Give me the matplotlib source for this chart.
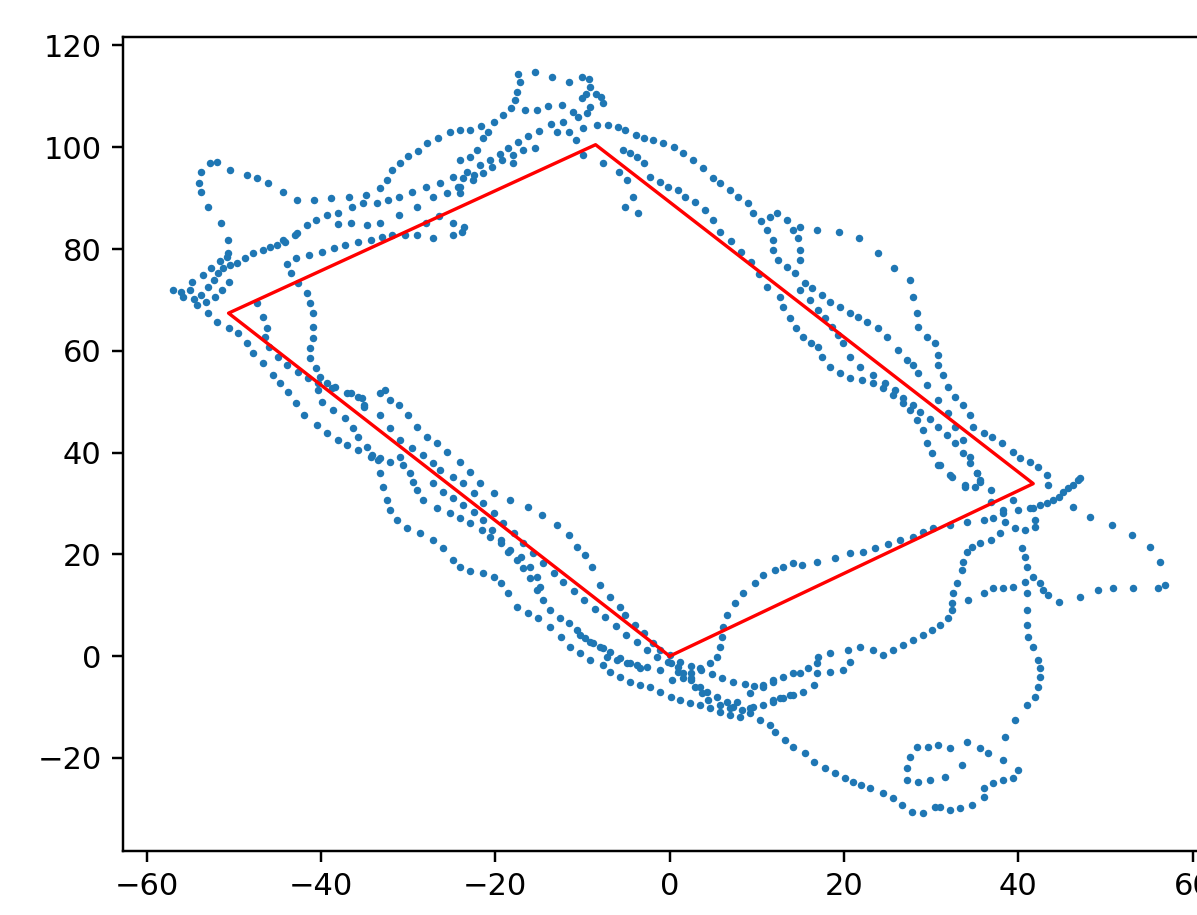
import numpy as np
import matplotlib
matplotlib.use("Agg")
import matplotlib.pyplot as plt

# expected path (red)
path_x = [0, 41.7, -8.5, -50.6, 0]
path_y = [0, 33.9, 100.5, 67.4, 0]

# measured positions, one list per visible track piece
nw_loop = [(-50.7, 79.2), (-50.7, 81.8), (-51.5, 85.1), (-52.9, 88.3), (-53.8, 91.2), (-54.0, 93.0),
           (-53.8, 95.2), (-52.7, 97.0), (-51.9, 97.1), (-50.4, 95.6), (-48.5, 94.5), (-47.3, 94.0),
           (-46.1, 93.0), (-44.4, 91.2), (-42.7, 89.7), (-40.8, 89.6), (-38.9, 90.0), (-36.8, 90.2),
           (-34.8, 90.6), (-33.2, 92.0), (-32.4, 93.6), (-31.8, 95.6), (-30.9, 97.0), (-30.0, 98.3),
           (-28.9, 99.3), (-27.8, 100.9), (-26.6, 101.9), (-25.2, 102.9), (-24.0, 103.4), (-22.9, 103.4),
           (-21.6, 104.2), (-20.2, 105.0), (-19.1, 106.4), (-18.2, 107.8), (-17.7, 109.2), (-17.5, 110.9),
           (-17.2, 112.9), (-17.4, 114.3), (-15.4, 114.7), (-13.5, 113.9), (-11.6, 112.9), (-10.0, 113.9),
           (-9.3, 113.4), (-9.1, 111.9), (-8.5, 110.5), (-7.9, 109.8), (-7.7, 108.7)]

top_cluster = [(-16.6, 107.4), (-15.2, 107.4), (-13.9, 108.2), (-12.3, 108.4), (-11.1, 107.0), (-10.5, 106.0),
               (-9.5, 106.8), (-9.1, 108.0), (-10.0, 109.6), (-9.6, 110.4), (-12.9, 103.0), (-11.6, 103.0),
               (-10.8, 101.4), (-9.9, 98.5), (-15.4, 99.9), (-18.0, 97.0), (-24.0, 97.5), (-22.9, 98.1),
               (-22.1, 99.5), (-21.4, 101.8), (-20.8, 103.0), (-22.5, 94.6), (-23.7, 94.0), (-24.3, 92.2),
               (-24.0, 91.0), (-7.7, 96.9), (-5.8, 95.1), (-4.9, 93.6), (-4.2, 90.3), (-5.1, 88.3), (-3.6, 87.1)]

nw_cluster = [(-57.0, 72.0), (-56.1, 71.6), (-55.0, 72.0), (-53.8, 71.0), (-53.0, 72.6), (-52.3, 73.9),
              (-51.8, 75.3), (-51.2, 76.3), (-50.4, 76.9), (-49.6, 77.3), (-48.7, 78.3), (-47.8, 79.3),
              (-46.6, 79.8), (-45.8, 80.4), (-44.3, 81.8), (-43.0, 82.7), (-54.8, 73.5), (-53.5, 74.8),
              (-52.6, 76.2), (-51.6, 77.6), (-50.8, 78.4), (-55.8, 70.6), (-54.6, 70.2), (-53.2, 69.6),
              (-52.2, 70.6), (-51.3, 72.0), (-50.5, 73.6)]

nw_upper = [(-45.0, 80.8), (-44.1, 81.4), (-42.7, 83.2), (-41.6, 84.8), (-40.6, 85.8), (-39.3, 86.7),
            (-38.1, 87.1), (-36.4, 88.3), (-35.2, 89.1), (-33.6, 89.1), (-32.3, 89.7), (-31.0, 90.3),
            (-29.5, 91.2), (-27.9, 92.2), (-26.3, 93.0), (-24.8, 94.2), (-23.2, 95.2), (-21.7, 96.6),
            (-20.6, 97.5), (-19.5, 98.7), (-18.5, 99.8), (-17.4, 101.0), (-16.3, 102.3), (-15.0, 103.2),
            (-13.6, 104.5), (-12.2, 105.0)]

nw_mid = [(-38.0, 85.0), (-36.6, 85.2), (-34.7, 84.8), (-33.2, 85.2), (-31.1, 86.7), (-29.0, 88.3),
          (-27.1, 90.3), (-25.5, 91.0), (-24.0, 92.2), (-22.6, 93.6), (-21.4, 95.0), (-20.4, 96.2),
          (-19.2, 97.4), (-18.0, 98.5), (-16.8, 99.4)]

nw_low = [(-42.9, 78.3), (-41.4, 78.9), (-39.9, 79.5), (-38.5, 80.2), (-37.2, 80.8), (-35.7, 81.3),
          (-34.3, 81.8), (-33.0, 82.3), (-31.8, 82.8), (-30.4, 82.8), (-29.0, 82.8), (-27.1, 82.2),
          (-24.9, 82.8), (-23.8, 83.4), (-24.9, 85.2), (-23.6, 84.4), (-26.5, 86.5), (-28.0, 85.2)]

ne_a = [(-9.9, 103.8), (-8.3, 104.4), (-7.1, 104.4), (-5.9, 104.0), (-5.1, 103.4), (-3.9, 102.4),
        (-3.0, 101.8), (-1.9, 101.4), (-0.8, 100.8), (0.5, 100.0), (1.5, 98.9), (2.7, 97.5),
        (3.8, 95.9), (5.0, 94.0), (5.8, 93.0), (6.9, 91.6), (7.8, 90.3), (9.0, 89.1), (9.6, 87.1),
        (11.5, 86.3), (12.3, 87.1), (13.5, 85.7), (14.2, 83.8), (14.7, 82.2), (15.0, 79.8),
        (15.0, 77.9), (14.4, 75.3), (13.5, 76.5), (12.4, 77.9), (11.9, 79.8), (11.9, 81.8),
        (11.2, 83.8), (10.5, 85.5)]

ne_b = [(15.5, 73.4), (16.3, 72.4), (17.5, 71.0), (18.4, 69.6), (19.5, 68.6), (20.7, 67.5),
        (21.6, 66.7), (22.6, 65.7), (23.9, 64.5), (24.9, 62.7), (26.2, 60.2), (27.2, 58.2),
        (27.9, 57.2), (28.5, 55.7), (29.5, 53.3), (30.8, 50.3), (31.9, 47.8), (32.7, 45.0),
        (33.7, 42.5), (34.5, 39.1), (35.3, 36.0), (35.6, 34.2)]

ne_outer = [(15.0, 84.4), (16.9, 83.8), (19.4, 83.4), (21.7, 82.1), (23.9, 79.2), (25.7, 76.2),
            (27.6, 73.9), (27.9, 70.6), (28.4, 67.5), (28.5, 64.7), (29.5, 62.7), (30.4, 61.6),
            (30.8, 59.2), (30.8, 57.2), (31.4, 55.3), (31.9, 52.9), (32.7, 50.9), (33.7, 49.4),
            (34.5, 47.4), (34.8, 45.0), (36.0, 43.9), (37.0, 43.1), (38.1, 41.9), (39.4, 40.1),
            (40.2, 38.9), (41.3, 38.2), (42.3, 37.2), (43.3, 35.6), (43.4, 33.6)]

ne_c = [(-5.3, 99.5), (-4.5, 98.9), (-3.7, 98.1), (-3.0, 96.9), (-2.2, 94.2), (-1.1, 93.2),
        (-0.2, 92.2), (0.9, 91.6), (1.8, 90.3), (2.9, 89.3), (4.0, 87.7), (5.0, 85.7), (5.8, 83.4),
        (7.0, 81.5), (8.2, 79.5), (9.3, 77.5), (10.2, 75.0), (11.2, 72.6), (12.7, 70.6), (13.0, 68.6),
        (13.8, 66.5), (14.5, 64.5), (15.3, 62.7), (16.2, 61.5), (17.0, 60.8), (17.5, 58.8),
        (18.4, 56.8), (19.5, 55.7), (20.7, 54.7), (22.1, 54.3), (23.3, 53.7), (24.5, 52.7),
        (25.6, 51.3), (26.8, 49.8), (27.6, 48.4), (28.4, 46.4), (29.1, 44.4), (29.5, 41.9),
        (30.1, 39.9), (30.8, 37.6), (32.2, 35.6), (33.9, 33.6)]

ne_in = [(15.0, 72.0), (16.1, 70.0), (17.0, 68.0), (17.8, 66.5), (18.6, 64.7), (19.3, 63.1),
         (19.9, 61.6), (20.7, 58.8), (21.8, 56.8), (23.3, 55.3), (24.7, 53.7), (25.9, 52.3),
         (26.8, 50.7), (27.9, 49.4), (28.7, 48.0), (29.9, 46.6), (30.8, 45.0), (31.8, 43.5),
         (32.7, 41.9), (33.7, 39.9), (34.5, 38.0), (35.3, 36.0)]

e_vertex = [(33.9, 33.2), (35.0, 33.2), (35.6, 34.6), (36.8, 32.6), (36.9, 30.3), (38.2, 28.7),
            (39.4, 30.7), (40.0, 28.7), (41.3, 29.1), (38.5, 26.4), (39.6, 25.2), (40.8, 24.8),
            (41.9, 25.4), (41.9, 26.7), (40.4, 21.2), (41.0, 17.5), (31.0, 37.6), (32.4, 35.2),
            (41.7, 29.1), (42.5, 29.7), (43.3, 30.1), (44.0, 30.7), (44.6, 31.3), (45.1, 32.2),
            (45.7, 33.0), (46.3, 33.6), (46.8, 34.6), (47.1, 35.0), (46.3, 29.3), (48.2, 27.3),
            (50.7, 25.8), (53.0, 23.8), (55.1, 21.4), (56.2, 18.5)]

e_low = [(34.2, 11.0), (36.0, 12.4), (37.1, 13.4), (38.2, 13.4), (39.4, 13.6), (40.8, 14.6),
         (41.7, 15.5), (42.5, 14.4), (42.8, 13.0), (43.4, 12.0), (44.6, 10.6), (47.1, 11.6),
         (49.1, 13.0), (50.9, 13.4), (53.2, 13.4), (56.0, 13.4), (56.8, 14.0)]

e_drop = [(40.8, 19.5), (41.0, 12.4), (41.0, 9.0), (41.0, 6.1), (41.1, 3.7), (41.7, 1.8),
          (42.3, -0.8), (42.5, -2.4), (42.5, -4.1), (42.3, -6.1), (41.9, -8.1), (41.0, -9.6),
          (39.6, -12.6), (38.5, -15.9)]

s_loop = [(9.2, -11.2), (10.4, -12.6), (11.5, -13.6), (12.1, -14.9), (13.2, -16.5), (14.2, -17.9),
          (15.5, -19.1), (16.5, -20.8), (17.8, -22.0), (19.0, -23.0), (20.1, -24.0), (21.0, -24.8),
          (22.0, -25.4), (23.0, -26.0), (24.5, -26.9), (25.6, -27.9), (26.7, -29.3), (27.8, -30.7),
          (29.1, -30.9), (30.4, -29.7), (31.0, -29.7), (32.2, -30.3), (33.3, -29.9), (34.7, -29.3),
          (36.0, -27.7), (36.0, -26.0), (37.1, -25.0), (38.2, -24.4), (39.4, -24.0), (39.9, -22.4)]

s_inner = [(38.2, -20.5), (36.5, -19.1), (35.6, -18.1), (34.1, -16.9), (32.2, -18.1), (30.8, -17.5),
           (29.6, -17.9), (28.4, -17.9), (27.6, -19.9), (27.2, -22.0), (27.2, -24.4), (28.5, -24.8),
           (29.9, -24.4), (31.6, -23.8), (33.5, -21.4)]

s_vertex = [(0.1, -1.4), (0.9, -2.2), (1.5, -3.3), (2.4, -4.7), (2.9, -6.1), (3.7, -7.3), (4.4, -8.7),
            (5.8, -9.6), (6.9, -10.2), (7.7, -9.0), (9.2, -7.3), (10.7, -6.1), (11.9, -4.7),
            (14.2, -3.3), (9.6, -10.0), (11.8, -8.7), (12.7, -8.3), (13.8, -7.7)]

sw_outer = [(-54.2, 69.0), (-53.0, 67.5), (-51.9, 65.7), (-50.6, 64.5), (-49.5, 63.5), (-48.5, 61.6),
            (-47.8, 59.6), (-46.6, 57.6), (-45.5, 55.3), (-44.7, 53.7), (-43.8, 51.9), (-42.9, 49.8),
            (-42.0, 47.4), (-40.4, 45.4), (-39.3, 43.9), (-38.1, 42.5), (-37.0, 41.5), (-35.7, 40.5),
            (-34.3, 39.1), (-33.4, 38.5), (-33.2, 36.0), (-32.9, 33.2), (-32.4, 30.7), (-32.1, 28.7),
            (-31.3, 26.7), (-30.1, 25.2), (-28.6, 24.2), (-27.1, 22.8), (-26.0, 21.2), (-24.8, 18.9),
            (-24.0, 17.5), (-22.9, 16.7), (-21.4, 16.3), (-20.2, 15.5), (-19.4, 14.4), (-18.5, 12.4),
            (-17.5, 9.6), (-16.3, 8.5), (-15.1, 7.5), (-13.7, 5.7), (-12.5, 3.7), (-11.4, 1.8),
            (-10.3, 0.6), (-9.1, -0.8), (-7.7, -1.8), (-6.8, -3.1), (-5.7, -4.1), (-4.5, -5.1),
            (-3.4, -5.7), (-2.2, -6.1), (-1.1, -7.1), (0.1, -8.1), (1.2, -8.7), (2.3, -9.2),
            (3.5, -9.6), (4.6, -10.2), (5.8, -11.0), (6.9, -11.6), (8.1, -12.0)]

sw_mid = [(-40.3, 52.3), (-39.9, 50.0), (-38.6, 48.4), (-37.2, 46.8), (-36.3, 44.8), (-35.7, 43.1),
          (-34.7, 41.1), (-34.1, 39.5), (-33.2, 38.9), (-32.1, 38.2), (-30.9, 39.1), (-30.6, 37.6),
          (-29.8, 36.0), (-29.4, 34.2), (-29.0, 32.6), (-28.3, 30.7), (-26.7, 29.1), (-25.2, 28.1),
          (-24.0, 27.1), (-22.9, 26.2), (-21.5, 24.8), (-20.6, 23.4), (-19.4, 22.2), (-18.5, 20.5),
          (-17.5, 18.9), (-16.8, 17.3), (-16.0, 15.3), (-15.2, 13.0), (-14.5, 11.0), (-13.7, 9.0),
          (-12.6, 7.5), (-11.6, 6.5), (-10.6, 5.1), (-9.7, 3.5), (-8.8, 2.6), (-7.7, 1.6),
          (-7.2, -0.2), (-6.0, -0.8), (-4.9, -1.4), (-3.7, -1.8), (-2.6, -2.2), (-1.1, -2.8),
          (0.9, -3.1), (2.4, -4.3), (3.5, -6.1), (4.3, -7.1), (5.4, -8.1), (6.6, -9.0), (7.3, -10.0),
          (8.3, -10.6), (9.2, -10.2), (10.7, -9.6), (11.9, -9.0), (13.0, -8.3), (14.1, -7.7),
          (15.3, -7.1), (16.5, -5.7), (16.9, -3.3), (18.4, -3.1), (19.9, -2.8), (20.7, -1.2)]

sw_red = [(-27.1, 34.0), (-26.0, 32.3), (-24.8, 31.1), (-23.7, 29.7), (-22.5, 28.3), (-21.4, 26.7),
          (-20.4, 24.8), (-19.4, 22.8), (-18.3, 20.8), (-17.1, 19.5), (-16.0, 17.5), (-15.2, 15.5),
          (-14.9, 13.6), (-10.3, 4.1), (-9.1, 2.8), (-8.0, 1.8), (-6.8, 0.8), (-5.7, -0.4),
          (-4.5, -1.4), (-3.4, -2.4)]

sw_near = [(-47.3, 69.4), (-46.6, 66.7), (-46.2, 64.5), (-46.4, 62.7), (-46.0, 60.8), (-44.9, 58.8),
           (-43.9, 57.2), (-42.6, 55.9), (-41.5, 54.7), (-40.3, 53.7), (-38.7, 52.7), (-37.0, 51.7),
           (-35.7, 50.9), (-35.1, 49.0), (-33.2, 47.4), (-32.1, 44.8), (-30.9, 42.5), (-29.5, 40.9),
           (-28.3, 39.5), (-27.2, 38.0), (-26.3, 36.6), (-24.9, 35.2), (-23.7, 34.0), (-22.5, 32.1),
           (-21.4, 30.1), (-20.2, 28.1), (-19.1, 26.2), (-17.9, 24.2), (-16.8, 22.2), (-15.7, 20.3),
           (-14.5, 18.3), (-13.3, 16.4), (-12.2, 14.6), (-11.0, 12.8), (-9.8, 11.0), (-8.6, 9.3),
           (-7.4, 7.6), (-6.2, 5.9), (-5.0, 4.2), (-3.8, 2.7), (-2.6, 1.2), (-1.4, -0.2), (-0.2, -1.2),
           (1.2, -1.2), (2.4, -2.0), (3.6, -2.8), (4.8, -3.6), (6.0, -4.3), (7.3, -5.0), (8.6, -5.5),
           (9.7, -5.8), (10.7, -5.7), (11.9, -5.1), (13.0, -4.1), (15.0, -3.3), (15.9, -2.4),
           (16.9, -1.4), (17.0, -0.2), (18.4, 0.6), (20.4, 1.2), (21.8, 1.8), (23.3, 1.2), (24.5, 0.2),
           (25.6, 1.2), (26.8, 2.2), (27.9, 3.1), (29.1, 4.1), (30.1, 5.1), (31.0, 6.1), (31.9, 7.5),
           (32.4, 9.0), (32.4, 10.4), (32.5, 12.4), (33.0, 14.4), (33.5, 16.9), (33.7, 18.5),
           (34.1, 20.5), (34.7, 21.4), (35.6, 22.2), (36.8, 22.8), (37.9, 24.2)]

sw_in = [(-43.9, 77.0), (-43.4, 75.2), (-42.6, 73.3), (-41.6, 71.4), (-41.2, 69.4), (-40.9, 67.5),
         (-40.9, 64.7), (-40.9, 62.5), (-41.2, 60.6), (-41.2, 58.6), (-40.6, 56.6), (-40.1, 54.9),
         (-39.3, 53.7), (-38.4, 52.9), (-36.6, 51.7), (-35.3, 50.7), (-35.1, 49.4), (-33.2, 51.7),
         (-32.6, 52.3), (-32.1, 50.3), (-31.1, 49.4), (-30.0, 47.4), (-29.0, 45.0), (-27.8, 43.1),
         (-26.7, 41.9), (-25.5, 40.1), (-24.0, 38.2), (-22.9, 36.2), (-21.7, 34.0), (-20.2, 32.1),
         (-18.3, 30.7), (-16.3, 29.3), (-14.6, 27.7), (-12.9, 25.8), (-11.6, 23.8), (-10.6, 21.4),
         (-9.7, 19.9), (-8.9, 17.5), (-8.0, 14.0), (-6.8, 11.6), (-5.7, 9.6), (-5.1, 8.1),
         (-4.0, 6.1), (-3.0, 4.5), (-1.9, 2.6), (-1.1, 1.2), (0.0, 0.2)]

se_in = [(0.3, -4.7), (1.5, -4.2), (2.4, -3.3), (3.5, -2.4), (4.6, -1.4), (5.4, -0.2), (5.8, 1.8),
         (6.0, 3.7), (6.1, 5.7), (6.6, 8.1), (7.5, 10.4), (8.4, 12.4), (9.8, 14.4), (10.7, 15.9),
         (12.1, 16.9), (13.0, 17.5), (14.2, 18.3), (15.2, 17.9), (16.9, 18.5), (19.0, 19.3),
         (20.7, 20.3), (22.2, 20.5), (23.6, 21.2), (25.0, 22.0), (26.4, 22.8), (27.9, 23.4),
         (29.1, 24.4), (30.2, 25.2), (32.2, 25.8), (34.1, 26.4), (36.0, 26.7), (37.1, 27.1), (38.2, 28.1)]

tracks = [nw_loop, top_cluster, nw_cluster, nw_upper, nw_mid, nw_low, ne_a, ne_b, ne_outer,
          ne_c, ne_in, e_vertex, e_low, e_drop, s_loop, s_inner, s_vertex, sw_outer, sw_mid,
          sw_red, sw_near, sw_in, se_in]
pts = np.array([p for t in tracks for p in t])

fig = plt.figure(figsize=(1197 / 220, 915 / 220), dpi=220)
ax = fig.add_axes([0.1028, 0.0699, 0.9126, 0.8893])
ax.scatter(pts[:, 0], pts[:, 1], s=6, color="#1f77b4", linewidths=0)
ax.plot(path_x, path_y, color="red", linewidth=1.1)
ax.set_xlim(-62.7, 62.6)
ax.set_ylim(-38.3, 121.6)
ax.set_xticks(np.arange(-60, 61, 20))
ax.set_yticks(np.arange(-20, 121, 20))
fig.savefig("out.png", dpi=220)
